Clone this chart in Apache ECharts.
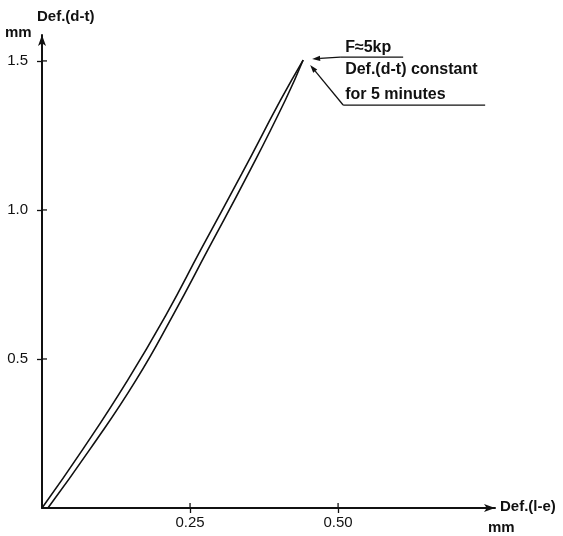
<!DOCTYPE html>
<html><head><meta charset="utf-8">
<script src="https://cdn.jsdelivr.net/npm/echarts@6/dist/echarts.min.js"></script>
<style>html,body{margin:0;padding:0;background:#fff}#c{width:563px;height:536px}</style>
</head><body><div id="c"></div>
<script>
// Loading curve (left / upper line) and unloading curve (right / lower line), mm
const loadX   = [0, 0.070, 0.145, 0.210, 0.268, 0.337, 0.403, 0.441];
const loadY   = [0, 0.2,   0.43,  0.65,  0.866, 1.12,  1.369, 1.503];
const unloadX = [0.01, 0.082, 0.159, 0.222, 0.280, 0.348, 0.411, 0.441];
const unloadY = [0,    0.2,   0.43,  0.65,  0.866, 1.12,  1.369, 1.503];
const xTicks = [0.25, 0.5];
const xTickLabels = ['0.25', '0.50'];
const yTicks = [0.5, 1.0, 1.5];
const yTickLabels = ['0.5', '1.0', '1.5'];
const xMax = 0.765, yMax = 1.587;

const FONT = '"Liberation Sans", Arial, sans-serif';
const INK = '#111';

const chart = echarts.init(document.getElementById('c'), null, {renderer: 'canvas'});

function pair(xs, ys) { return xs.map((x, i) => [x, ys[i]]); }
function lbl(vals, labels) { return v => { const i = vals.findIndex(t => Math.abs(t - v) < 1e-9); return i >= 0 ? labels[i] : ''; }; }

chart.setOption({
  animation: false,
  backgroundColor: '#fff',
  grid: {left: 42, right: 68, top: 35, bottom: 28, containLabel: false},
  xAxis: {
    type: 'value', min: 0, max: xMax, position: 'bottom',
    axisLine: {show: true, onZero: false, symbol: ['none', 'arrow'], symbolSize: [6, 11], lineStyle: {color: INK, width: 2}},
    axisTick: {show: true, length: 5, customValues: xTicks, lineStyle: {color: INK, width: 1.3}},
    axisLabel: {show: true, customValues: xTicks, formatter: lbl(xTicks, xTickLabels), color: INK, fontFamily: FONT, fontSize: 15, margin: 7},
    splitLine: {show: false}
  },
  yAxis: {
    type: 'value', min: 0, max: yMax, position: 'left',
    axisLine: {show: true, onZero: false, symbol: ['none', 'arrow'], symbolSize: [6, 11], lineStyle: {color: INK, width: 2}},
    axisTick: {show: true, length: 5, customValues: yTicks, lineStyle: {color: INK, width: 1.3}},
    axisLabel: {show: true, customValues: yTicks, formatter: lbl(yTicks, yTickLabels), color: INK, fontFamily: FONT, fontSize: 15, margin: 14},
    splitLine: {show: false}
  },
  series: [{
    type: 'line', name: 'load', data: pair(loadX, loadY), smooth: 0.5, showSymbol: false,
    lineStyle: {color: INK, width: 1.6}
  }, {
    type: 'line', name: 'unload', data: pair(unloadX, unloadY), smooth: 0.5, showSymbol: false,
    lineStyle: {color: INK, width: 1.6}
  }]
});

// Inner half of the crossing ticks, positioned through the axis scales
const o = chart.convertToPixel({gridIndex: 0}, [0, 0]);
const tickG = [];
xTicks.forEach(v => { const q = chart.convertToPixel({gridIndex: 0}, [v, 0]); tickG.push({type: 'line', shape: {x1: q[0], y1: o[1], x2: q[0], y2: o[1] - 5}, style: {stroke: INK, lineWidth: 1.3}}); });
yTicks.forEach(v => { const q = chart.convertToPixel({gridIndex: 0}, [0, v]); tickG.push({type: 'line', shape: {x1: o[0], y1: q[1], x2: o[0] + 5, y2: q[1]}, style: {stroke: INK, lineWidth: 1.3}}); });

// Annotations placed relative to the peak point
const p = chart.convertToPixel({gridIndex: 0}, [loadX[loadX.length - 1], loadY[loadY.length - 1]]);
const px = p[0], py = p[1];

function arrow(x1, y1, x2, y2) {
  const dx = x2 - x1, dy = y2 - y1, L = Math.hypot(dx, dy);
  const ux = dx / L, uy = dy / L, len = 8, w = 2.6;
  const bx = x2 - ux * len, by = y2 - uy * len;
  return [
    {type: 'line', shape: {x1, y1, x2: bx, y2: by}, style: {stroke: INK, lineWidth: 1.3}},
    {type: 'polygon', shape: {points: [[x2, y2], [bx - uy * w, by + ux * w], [bx + uy * w, by - ux * w]]}, style: {fill: INK}}
  ];
}

const txt = (x, y, s, size) => ({type: 'text', x, y, style: {text: s, fill: INK, font: 'bold ' + (size || 16) + 'px ' + FONT}});

chart.setOption({
  graphic: [
    ...tickG,
    ...arrow(px + 37, py - 3, px + 9, py - 1),
    {type: 'line', shape: {x1: px + 37, y1: py - 3, x2: px + 100, y2: py - 3}, style: {stroke: INK, lineWidth: 1.3}},
    txt(px + 42, py - 20, 'F≈5kp'),
    ...arrow(px + 40, py + 45, px + 7, py + 5),
    {type: 'line', shape: {x1: px + 40, y1: py + 45, x2: px + 182, y2: py + 45}, style: {stroke: INK, lineWidth: 1.3}},
    txt(px + 42, py + 2, 'Def.(d-t) constant'),
    txt(px + 42, py + 27, 'for 5 minutes'),
    txt(37, 9, 'Def.(d-t)', 15),
    txt(5, 25, 'mm', 15),
    txt(500, 499, 'Def.(l-e)', 15),
    txt(488, 520, 'mm', 15)
  ]
});
</script></body></html>
